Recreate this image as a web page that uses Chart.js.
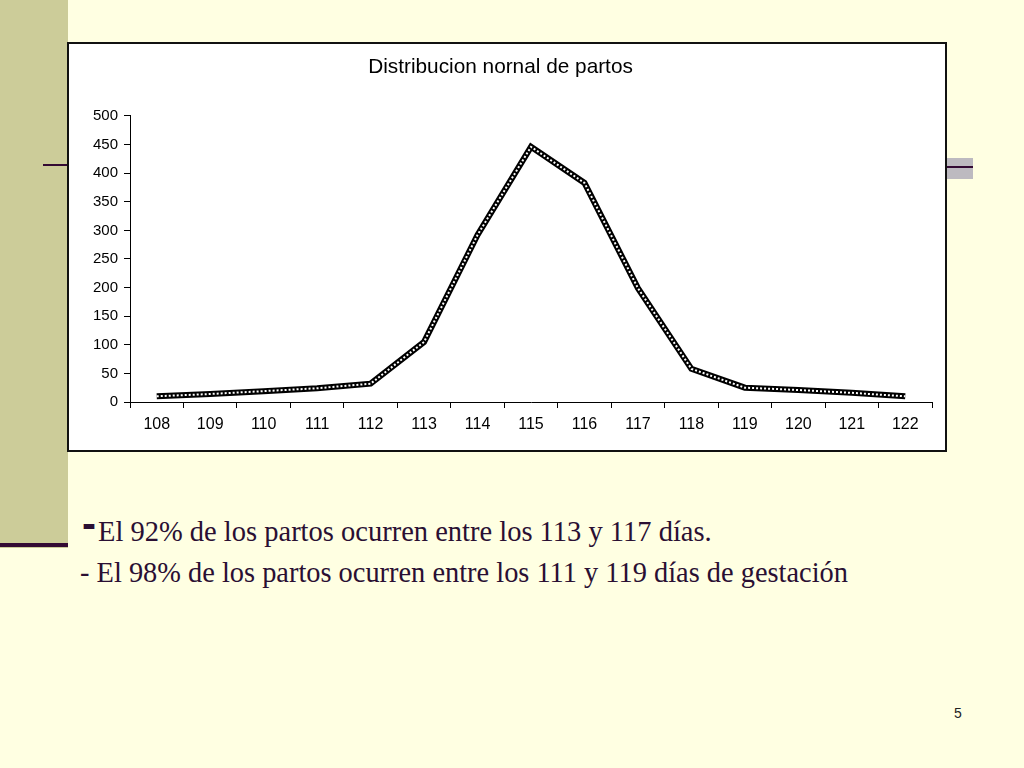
<!DOCTYPE html>
<html>
<head>
<meta charset="utf-8">
<script src="https://cdn.jsdelivr.net/npm/chart.js@4"></script>
<style>
  html, body { margin:0; padding:0; }
  body { width:1024px; height:768px; background:#FFFFE2; position:relative; overflow:hidden; font-family:"Liberation Serif", serif; }
  #leftbar { position:absolute; left:0; top:0; width:68px; height:548px; background:#CCCC99; }
  #botline { position:absolute; left:0; top:543px; width:68px; height:4px; background:#330A33; }
  #topline { position:absolute; left:43px; top:164px; width:30px; height:2px; background:#330A33; }
  #rightband { position:absolute; left:946px; top:158px; width:27px; height:21px; background:#BDBAC0; }
  #rightline { position:absolute; left:946px; top:166px; width:27px; height:2px; background:#330A33; }
  #chartbox { position:absolute; left:67px; top:42px; width:876px; height:406px; border:2px solid #111; background:#fff; }
  #chartbox canvas { position:absolute; left:0; top:0; }
  .txt { position:absolute; color:#2A0F33; line-height:29px; white-space:nowrap; }
  #l1 { left:82px; top:517px; font-size:28.5px; }
  #l1 .d { position:relative; top:-3px; font-family:"Liberation Sans", sans-serif; font-weight:bold; font-size:42px; line-height:20px; margin-right:2px; }
  #l2 { left:80px; top:558px; font-size:28.4px; }
  #pg { position:absolute; left:954px; top:705px; font-family:"Liberation Sans", sans-serif; font-size:14px; color:#222; }
</style>
</head>
<body>
<div id="leftbar"></div>
<div id="topline"></div>
<div id="botline"></div>
<div id="rightband"></div>
<div id="rightline"></div>
<div id="chartbox"><canvas id="c" width="876" height="406"></canvas></div>
<div class="txt" id="l1"><span class="d">-</span>El 92% de los partos ocurren entre los 113 y 117 días.</div>
<div class="txt" id="l2">- El 98% de los partos ocurren entre los 111 y 119 días de gestación</div>
<div id="pg">5</div>
<script>
const chartTitle = "Distribucion nornal de partos";
const days = ["108","109","110","111","112","113","114","115","116","117","118","119","120","121","122"];
const births = [10, 14, 19, 24, 32, 105, 292, 446, 383, 199, 58, 25, 21, 16, 10];
const yTicks = [0, 50, 100, 150, 200, 250, 300, 350, 400, 450, 500];

new Chart(document.getElementById('c'), {
  type: 'line',
  data: {
    labels: days,
    datasets: [
      { data: births, order: 1, borderColor: '#000', borderWidth: 6, pointRadius: 0, tension: 0, fill: false },
      { data: births, order: 0, borderColor: '#fff', borderWidth: 2, borderDash: [2, 2], pointRadius: 0, tension: 0, fill: false }
    ]
  },
  options: {
    responsive: false,
    animation: false,
    layout: { padding: { left: 0, right: 13, top: 0, bottom: 0 } },
    plugins: {
      legend: { display: false },
      tooltip: { enabled: false },
      title: {
        display: true,
        text: chartTitle,
        color: '#000',
        font: { family: 'Liberation Sans', size: 20.8, weight: 'normal', lineHeight: 1.2 },
        padding: { top: 11, bottom: 36 }
      }
    },
    scales: {
      x: {
        offset: true,
        grid: { display: true, drawOnChartArea: false, offset: true, tickLength: 6, tickColor: '#000', tickWidth: 1 },
        border: { display: true, color: '#000', width: 1 },
        ticks: { color: '#000', font: { family: 'Liberation Sans', size: 16 }, padding: 7, maxRotation: 0, autoSkip: false },
        afterFit: s => { s.height = 48; }
      },
      y: {
        min: 0, max: 500,
        afterBuildTicks: s => { s.ticks = yTicks.map(v => ({ value: v })); },
        grid: { display: true, drawOnChartArea: false, tickLength: 6, tickColor: '#000', tickWidth: 1 },
        border: { display: true, color: '#000', width: 1 },
        ticks: { color: '#000', font: { family: 'Liberation Sans', size: 15 }, padding: 6 },
        afterFit: s => { s.width = 61; }
      }
    }
  }
});
</script>
</body>
</html>
